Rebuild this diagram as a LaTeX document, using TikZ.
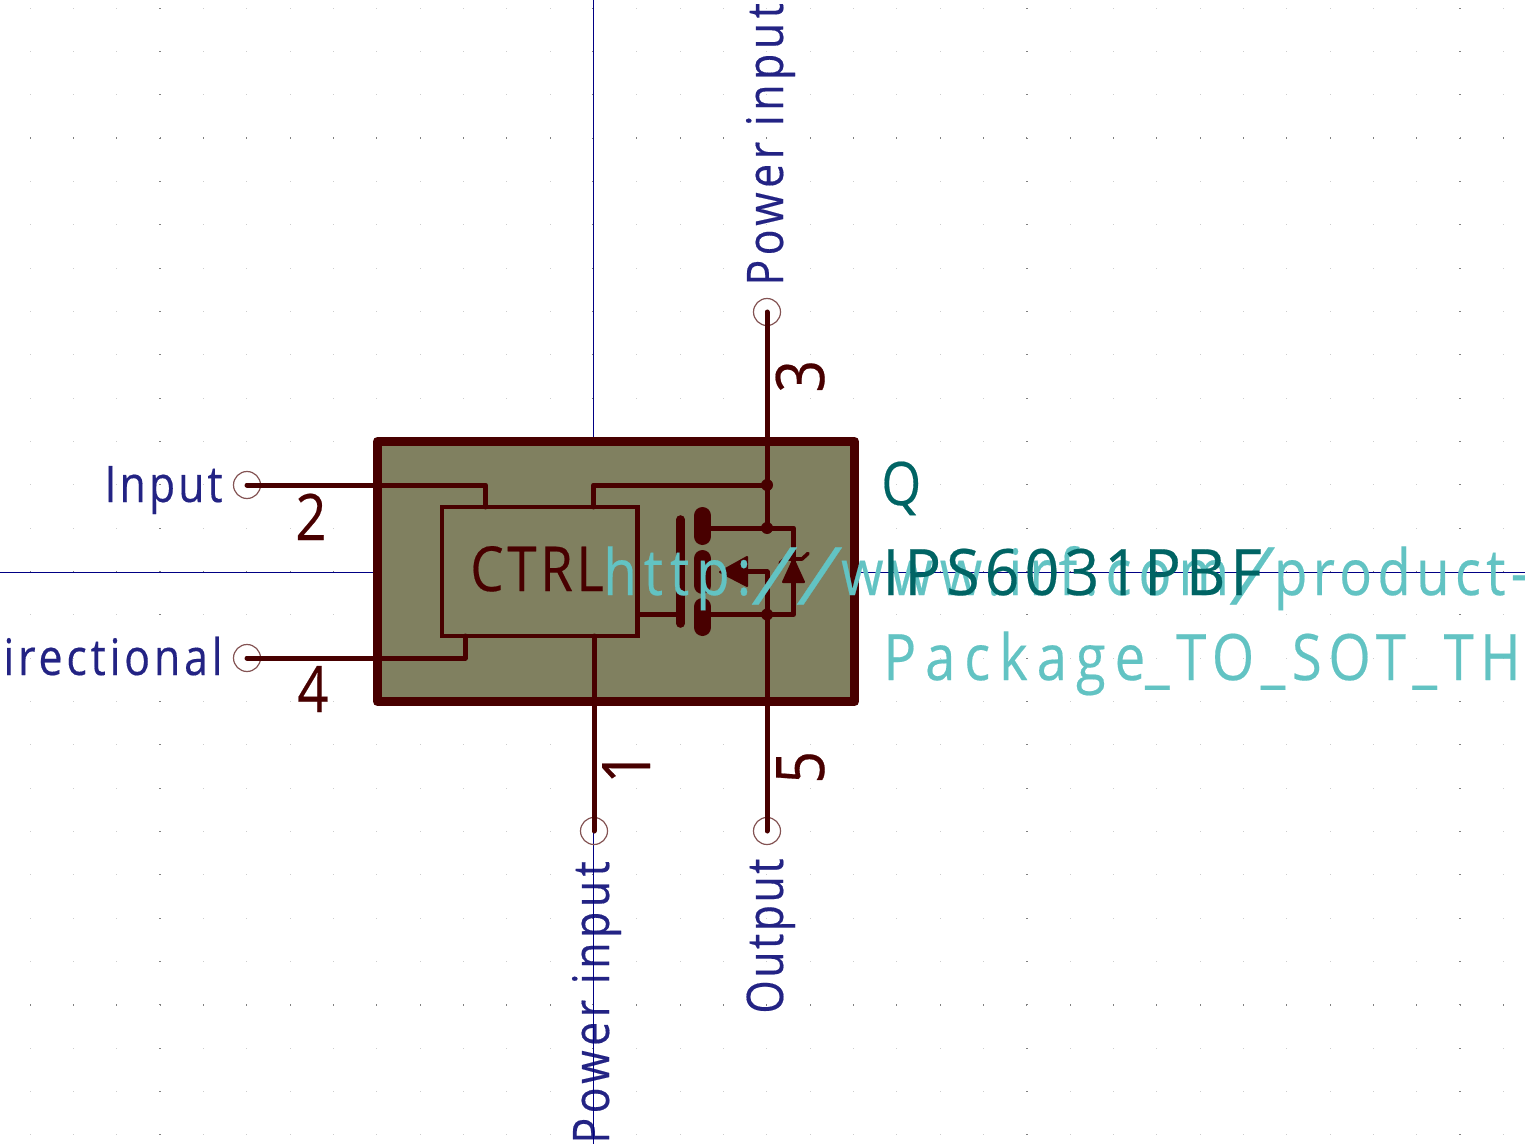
\documentclass[tikz,border=0pt]{standalone}
\usepackage{fontspec}
\usepackage{graphicx}
\usetikzlibrary{calc}
\newfontfamily\strokefont[FakeStretch=0.85,FakeBold=0.3,LetterSpace=6]{Open Sans}
\newfontfamily\dirfont[FakeStretch=0.85,FakeBold=0.3,LetterSpace=7.6]{Open Sans}
\newfontfamily\powerfont[FakeStretch=0.85,FakeBold=0.3,LetterSpace=9]{Open Sans}
\newfontfamily\outfont[FakeStretch=0.85,FakeBold=0.3,LetterSpace=5]{Open Sans}
\newfontfamily\urlfont[FakeStretch=0.85,FakeBold=0.3,LetterSpace=11]{Open Sans}
\newfontfamily\urltailfont[FakeStretch=0.85,FakeBold=0.3,LetterSpace=8.4]{Open Sans}
\newfontfamily\slashfont[FakeSlant=0.3,FakeBold=0.3]{Open Sans}
\newfontfamily\partfont[FakeStretch=0.95,FakeBold=0.3,LetterSpace=8]{Open Sans}
\newfontfamily\packfont[FakeStretch=0.85,FakeBold=0.3,LetterSpace=14]{Open Sans}
\newfontfamily\packtailfont[FakeStretch=0.85,FakeBold=0.3,LetterSpace=10.4]{Open Sans}
\newcommand{\wideslash}{\makebox[22.5pt][l]{\raisebox{-0.15em}{\scalebox{1.25}{\slashfont /}}}}
\definecolor{wirecol}{HTML}{480000}
\definecolor{bodycol}{HTML}{808060}
\definecolor{pincol}{HTML}{845454}
\definecolor{namecol}{HTML}{232384}
\definecolor{refcol}{HTML}{006464}
\definecolor{fieldcol}{HTML}{62C3C3}
\definecolor{axiscol}{HTML}{000084}
\tikzset{
	wire/.style={draw=wirecol, line width=2.5pt, line cap=round, line join=round},
	pinend/.style={circle, draw=pincol, line width=0.6pt, minimum size=13.5pt, inner sep=0pt},
	junction/.style={circle, fill=wirecol, minimum size=6pt, inner sep=0pt},
	pinname/.style={text=namecol, inner sep=0pt},
	pinnum/.style={text=wirecol, inner sep=0pt, font=\strokefont\fontsize{32}{32}\selectfont},
	pinnumside/.style={text=wirecol, inner sep=0pt, rotate=90, anchor=base west, font=\strokefont\fontsize{33.5}{33.5}\selectfont},
	fieldtext/.style={inner sep=0pt},
}
\begin{document}
\begin{tikzpicture}[x=0.5pt, y=-0.5pt]
			\useasboundingbox[fill=white] (0, 0) rectangle (1525, 1144);
			
			%%%%% grid
			\foreach \i in {0,...,34} {
				\foreach \j in {0,...,26} {
					\pgfmathsetmacro{\gx}{30.33+43.33*\i}
					\pgfmathsetmacro{\gy}{8.33+43.33*\j}
					\fill[black!20] (\gx-0.5, \gy-0.5) rectangle (\gx+0.5, \gy+0.5);
				}
			}
			\foreach \gx in {160, 593.3, 1026.7, 1460} {
				\foreach \j in {0,...,26} {
					\pgfmathsetmacro{\gy}{8.33+43.33*\j}
					\fill[black!50] (\gx-1, \gy-0.5) rectangle (\gx+1, \gy+0.5);
				}
			}
			\foreach \gy in {138.3, 571.6, 1005} {
				\foreach \i in {0,...,34} {
					\pgfmathsetmacro{\gx}{30.33+43.33*\i}
					\fill[black!50] (\gx-0.5, \gy-1) rectangle (\gx+0.5, \gy+1);
				}
			}
			
			%%%%% pin names
			\node[pinname, anchor=base east, font=\strokefont\fontsize{25.2}{25.2}\selectfont] (nameinput) at (223, 502) {Input};
			\node[pinname, anchor=base east, font=\dirfont\fontsize{25.2}{25.2}\selectfont] (namedir) at (223, 675) {irectional};
			\node[pinname, rotate=90, anchor=base west, font=\powerfont\fontsize{25.2}{25.2}\selectfont] (namepwrtop) at (783, 286) {Power input};
			\node[pinname, rotate=90, anchor=base west, font=\powerfont\fontsize{25.2}{25.2}\selectfont] (namepwrbot) at (609, 1144) {Power input};
			\node[pinname, rotate=90, anchor=base west, font=\outfont\fontsize{25.2}{25.2}\selectfont] (nameoutput) at (783, 1014) {Output};
			
			%%%%% axes
			\draw[axiscol, line width=0.5pt] (593.3, 0) -- (593.3, 1144);
			\draw[axiscol, line width=0.5pt] (0, 572) -- (1525, 572);
			
			%%%%% body
			\draw[wirecol, fill=bodycol, line width=4.5pt, line join=round] (377.5, 441.5) rectangle (854.5, 701.5);
			\draw[wirecol, line width=2.2pt] (442, 507) rectangle (637.5, 636);
			
			%%%%% pins
			\node[pinend] (pintwo) at (247, 485) {};
			\node[pinend] (pinfour) at (247, 658) {};
			\node[pinend] (pinthree) at (767, 312) {};
			\node[pinend] (pinone) at (594, 831) {};
			\node[pinend] (pinfive) at (767, 831) {};
			
			\node[junction] (jtop) at (767, 485) {};
			\node[junction] (jdrain) at (767, 528) {};
			\node[junction] (jsource) at (767, 614.5) {};
			
			\coordinate (gatein) at (637.5, 614.5);
			\coordinate (gatebar) at (680.5, 614.5);
			\coordinate (drainbar) at (703, 528);
			\coordinate (sourcebar) at (703, 614.5);
			\coordinate (bodybar) at (747, 571.7);
			\coordinate (diodeline) at (793.5, 528);
			
			\draw[wire] (pintwo.center) -- (485.5, 485) -- (485.5, 507);
			\draw[wire] (pinfour.center) -- (465, 658) -- (465, 636);
			\draw[wire] (pinone.center) -- (594, 636);
			\draw[wire] (593.5, 507) -- (593.5, 485) -- (jtop.center);
			\draw[wire] (pinthree.center) -- (jtop.center) -- (jdrain.center);
			\draw[wire] (pinfive.center) -- (jsource.center) -- (767, 571.7) -- (bodybar);
			\draw[wire] (drainbar) -- (diodeline) -- (793.5, 614.5) -- (sourcebar);
			\draw[wire] (gatein) -- (gatebar);
			
			%%%%% mosfet
			\draw[wirecol, line width=4.3pt, line cap=round] (680.5, 519.5) -- (680.5, 623.5);
			\draw[wirecol, line width=8.5pt, line cap=round] (702.5, 515.5) -- (702.5, 536.5);
			\draw[wirecol, line width=8.5pt, line cap=round] (702.5, 558.5) -- (702.5, 585.5);
			\draw[wirecol, line width=8.5pt, line cap=round] (702.5, 606.5) -- (702.5, 627.5);
			\fill[wirecol, draw=wirecol, line width=1pt, line join=round] (720, 572) -- (747, 557) -- (747, 586) -- cycle;
			\fill[wirecol, draw=wirecol, line width=1pt, line join=round] (793.5, 559) -- (804, 582) -- (783, 582) -- cycle;
			\draw[wirecol, line width=1.8pt, line cap=round, line join=round] (780, 563) -- (785, 559) -- (802, 559) -- (808, 553.5);
			
			%%%%% texts
			\node[text=wirecol, inner sep=0pt, font=\strokefont\fontsize{31}{31}\selectfont, anchor=base west] (ctrl) at (470, 591) {CTRL};
			
			\node[pinnum, anchor=base west] (numtwo) at (295, 540) {2};
			\node[pinnum, anchor=base west] (numfour) at (297, 712) {4};
			\node[pinnumside] (numthree) at (824, 393) {3};
			\node[pinnumside] (numone) at (650, 784) {1};
			\node[pinnumside] (numfive) at (824, 784) {5};
			
			\node[fieldtext, text=fieldcol, anchor=base west, font=\fontsize{32}{32}\selectfont] (url) at (603, 595) {\urlfont http:\wideslash\wideslash www.irf.com\wideslash\urltailfont product-};
			\node[fieldtext, text=refcol, anchor=base west, font=\strokefont\fontsize{30}{30}\selectfont] (refq) at (881, 505) {Q};
			\node[fieldtext, text=refcol, anchor=base west, font=\partfont\fontsize{32}{32}\selectfont] (partname) at (882, 595) {IPS6031PBF};
			\node[fieldtext, text=fieldcol, anchor=base west, font=\fontsize{32}{32}\selectfont] (footprint) at (883, 680) {\packfont Package\packtailfont\_TO\_SOT\_TH};
		\end{tikzpicture}
\end{document}
